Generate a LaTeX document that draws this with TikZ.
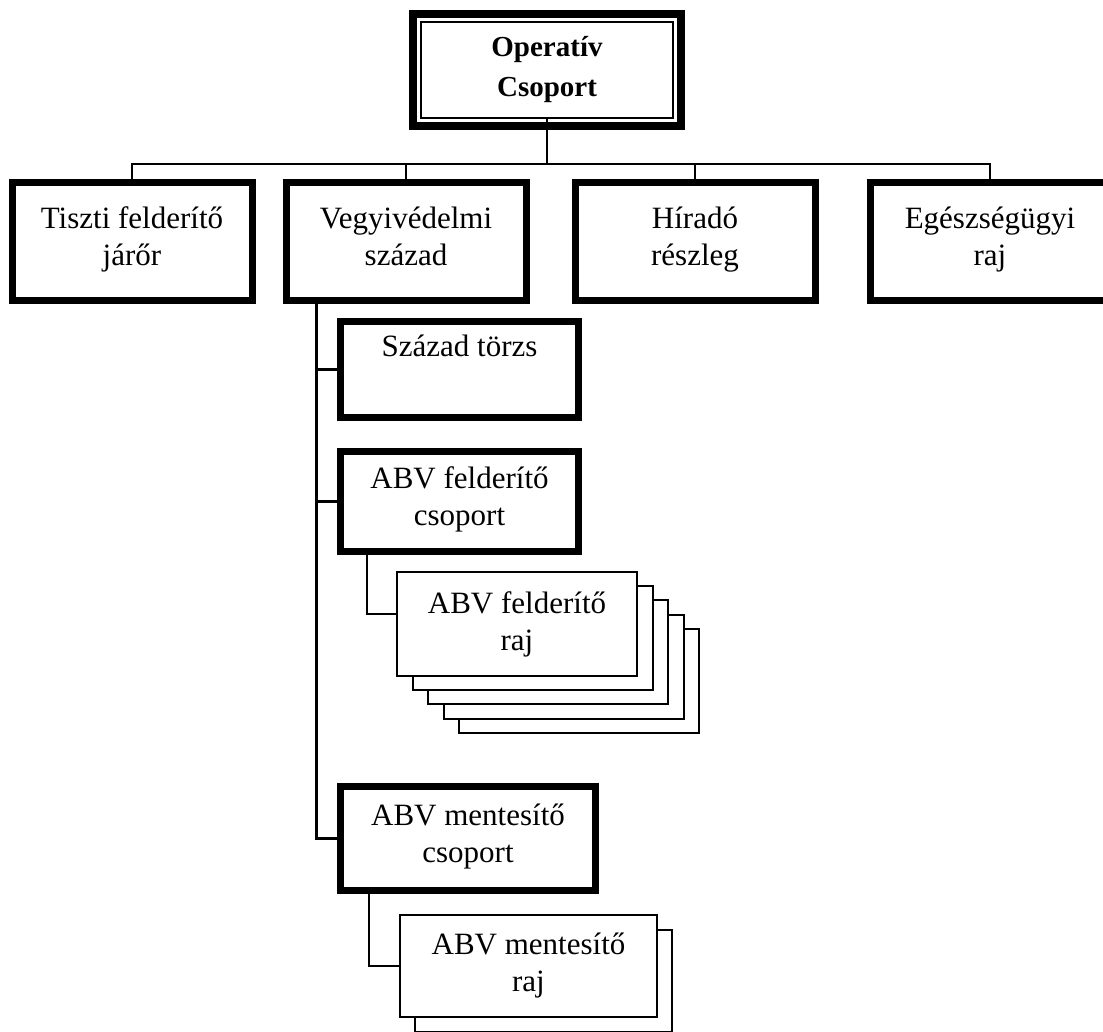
\documentclass[tikz,border=0pt]{standalone}
\usepackage{fontspec}
\setmainfont{Liberation Serif}
\usetikzlibrary{positioning,calc,backgrounds}

\begin{document}
\begin{tikzpicture}[
  font=\fontsize{15.5}{18.5}\selectfont,
  node distance=13.5pt,
  unit/.style={draw, line width=3.5pt, align=center, inner sep=2pt, minimum width=120pt, minimum height=59pt,
    execute at begin node=\strut, execute at end node=\strut},
  sub/.style={unit, minimum width=119pt, minimum height=48pt},
  raj/.style={draw, line width=1pt, fill=white, align=center, inner sep=2pt, minimum width=120pt, minimum height=52pt},
  hq/.style={draw, line width=1pt, align=center, font=\fontsize{14.5}{20}\selectfont\bfseries, minimum width=126pt, minimum height=48pt},
  link/.style={line width=1.1pt},
]
\useasboundingbox (0,0) rectangle (551.5pt,-516pt);

\node[hq] (ops) at (273.5pt,-35pt) {Operatív\\Csoport};
\draw[line width=4pt] ([shift={(-3.5pt,3.5pt)}]ops.north west) rectangle ([shift={(3.5pt,-3.5pt)}]ops.south east);

\node[unit] (tiszti) at (66pt,-120.75pt) {Tiszti felderítő\\járőr};
\node[unit, right=13.5pt of tiszti] (vegy) {Vegyivédelmi\\század};
\node[unit, right=21pt of vegy] (hirado) {Híradó\\részleg};
\node[unit, right=24pt of hirado] (egesz) {Egészségügyi\\raj};

\node[sub, below=7pt of vegy.south west, anchor=north west, xshift=27.25pt] (torzs) {Század törzs\\\mbox{}};
\node[sub, below=13.5pt of torzs, minimum height=50pt] (fcs) {ABV felderítő\\csoport};
\node[sub, below=114pt of fcs.south west, anchor=north west, minimum width=127.5pt, minimum height=52pt] (mcs) {ABV mentesítő\\csoport};

\node[raj, below=8pt of fcs.south west, anchor=north west, xshift=29.5pt] (fraj) {ABV felderítő\\raj};
\node[raj, below=10pt of mcs.south west, anchor=north west, xshift=31pt, minimum width=128.5pt, minimum height=51pt] (mraj) {ABV mentesítő\\raj};

\begin{scope}[on background layer]
  \foreach \i in {4,3,2,1}
    \node[raj] (fraj\i) at ([shift={(\i*7.75pt,-\i*7.1pt)}]fraj.center) {};
  \node[raj, minimum width=128.5pt, minimum height=51pt] (mraj1) at ([shift={(7.5pt,-7.5pt)}]mraj.center) {};
\end{scope}

\coordinate (bus) at ($(ops.south)+(0,-22.5pt)$);
\draw[link] (ops.south) -- (bus);
\foreach \b in {tiszti,vegy,hirado,egesz}
  \draw[link] (bus) -| (\b.north);

\coordinate (spine) at ([xshift=17pt]vegy.south west);
\foreach \s in {torzs,fcs,mcs}
  \draw[link] (spine) |- (\s.west);

\draw[link] ([xshift=15pt]fcs.south west) |- ([yshift=5pt]fraj.west);
\draw[link] ([xshift=16pt]mcs.south west) |- (mraj.west);
\end{tikzpicture}
\end{document}
